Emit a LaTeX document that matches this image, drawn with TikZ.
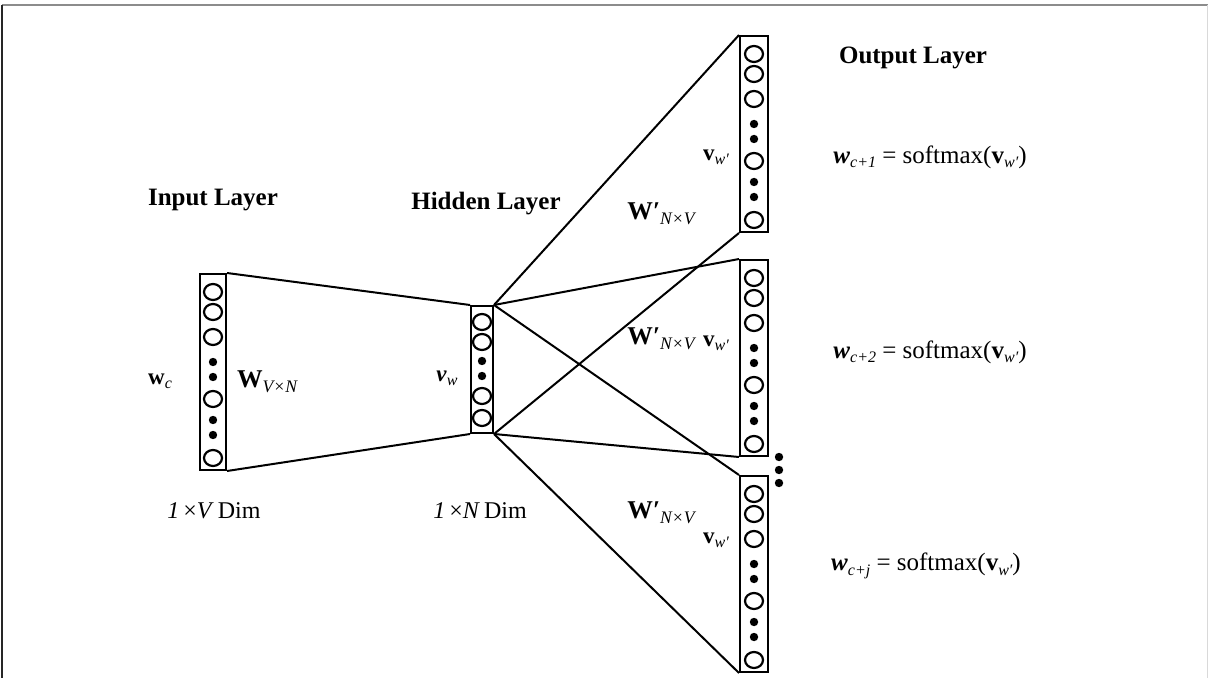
\documentclass[tikz,border=0pt]{standalone}
\usepackage{fontspec}
\setmainfont{Liberation Serif}
% italic subscript, lowered below the baseline
\newcommand\sbs[1]{\raisebox{-0.4ex}{\fontsize{8}{9}\selectfont\itshape #1}}
\newcommand\sbsl[1]{\raisebox{-0.4ex}{\fontsize{8.8}{10}\selectfont\itshape #1}}
\tikzset{
  layerbox/.style={draw, line width=1pt, inner sep=0pt},
  link/.style={line width=1pt},
  cell/.style={line width=1.1pt},
  head/.style={font=\fontsize{12.5}{15}\selectfont\bfseries, inner sep=0pt},
  eqn/.style={font=\fontsize{12.5}{15}\selectfont, inner sep=0pt},
  lbl/.style={font=\fontsize{11.5}{13}\selectfont, inner sep=0pt},
  wlbl/.style={font=\fontsize{12.8}{15}\selectfont, inner sep=0pt},
  dimlbl/.style={font=\fontsize{12}{14}\selectfont, inner sep=0pt},
}
% nine units of a layer: circles and dots, given centre x and top y
\newcommand\cellstack[2]{%
  \foreach \d in {18,38,63,125,184}
    \draw[cell] (#1,#2+\d) ellipse [x radius=9, y radius=8];
  \foreach \d in {88,103,146,161}
    \fill (#1,#2+\d) circle [radius=4.2];
}
\begin{document}
\begin{tikzpicture}[x=0.5pt, y=-0.5pt]
\useasboundingbox (0,0) rectangle (1208,678);
% frame
\draw[black!45, line width=1pt] (2,5) -- (1208,5);
\draw[black!85, line width=1pt] (2,5) -- (2,678);
\draw[black!15, line width=0.5pt] (1207,5) -- (1207,678);

% layer columns
\node[layerbox, minimum width=13pt, minimum height=98pt] (in) at (213,372) {};
\node[layerbox, minimum width=11pt, minimum height=63.5pt] (hid) at (482,369.5) {};
\node[layerbox, minimum width=14pt, minimum height=98pt] (o1) at (754,134) {};
\node[layerbox, minimum width=14pt, minimum height=98pt] (o2) at (754,358) {};
\node[layerbox, minimum width=14pt, minimum height=98pt] (o3) at (754,574) {};

% units
\cellstack{213}{274}
\cellstack{754}{36}
\cellstack{754}{260}
\cellstack{754}{476}
\foreach \d in {16,36,90,112}
  \draw[cell] (482,306+\d) ellipse [x radius=9, y radius=8];
\foreach \d in {55,70}
  \fill (482,306+\d) circle [radius=4.2];

% more output columns
\foreach \y in {457,470,483}
  \fill (779,\y) circle [radius=4.2];

% connections
\draw[link] (in.north east) -- (hid.north west);
\draw[link] (in.south east) -- (hid.south west);
\foreach \o in {o1,o2,o3} {
  \draw[link] (hid.north east) -- (\o.north west);
  \draw[link] (hid.south east) -- (\o.south west);
}

% headings
\node[head] (hin) at (213,200) {Input Layer};
\node[head] (hhid) at (486,204) {Hidden Layer};
\node[head] (hout) at (913,58) {Output Layer};

% labels
\node[lbl] (lwc) at (160,381) {\textbf{w}\sbs{c}};
\node[wlbl] (lW) at (267,382) {\textbf{W}\sbsl{V×N}};
\node[lbl] (lvw) at (447,378) {\textbf{\textit{v}}\sbs{w}};
\node[wlbl] (lW1) at (661,214) {\textbf{W′}\sbsl{N×V}};
\node[wlbl] (lW2) at (661,339) {\textbf{W′}\sbsl{N×V}};
\node[wlbl] (lW3) at (661,513) {\textbf{W′}\sbsl{N×V}};
\node[lbl] (lv1) at (716,157) {\textbf{v}\sbs{w′}};
\node[lbl] (lv2) at (716,343) {\textbf{v}\sbs{w′}};
\node[lbl] (lv3) at (716,540) {\textbf{v}\sbs{w′}};

% outputs
\node[eqn] (e1) at (930,157) {\textbf{\textit{w}}\sbs{c+1} = softmax(\textbf{v}\sbs{w′})};
\node[eqn] (e2) at (930,352) {\textbf{\textit{w}}\sbs{c+2} = softmax(\textbf{v}\sbs{w′})};
\node[eqn] (e3) at (926,566) {\textbf{\textit{w}}\sbs{c+j} = softmax(\textbf{v}\sbs{w′})};

% dimensions
\node[dimlbl] (d1) at (214,511) {\textit{1}\,×\textit{V}\,Dim};
\node[dimlbl] (d2) at (480,511) {\textit{1}\,×\textit{N}\,Dim};
\end{tikzpicture}
\end{document}
